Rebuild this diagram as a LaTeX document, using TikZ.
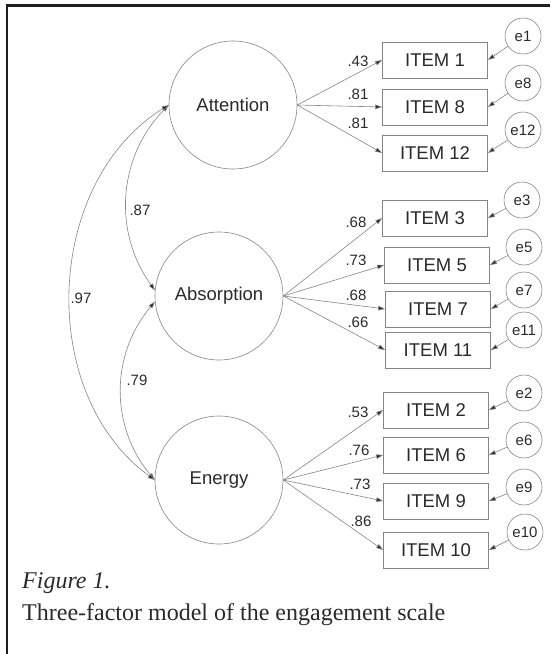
\documentclass[tikz,border=0pt]{standalone}
\usepackage{fontspec}
\setmainfont{Liberation Serif}
\setsansfont{Liberation Sans}
\usetikzlibrary{arrows.meta}
\definecolor{linec}{HTML}{858585}
\definecolor{txt}{HTML}{2A2A2A}
\definecolor{framec}{HTML}{1E1E1E}
\begin{document}
\begin{tikzpicture}[x=1pt,y=-1pt,
 lat/.style={circle,draw=linec,line width=0.6pt,minimum size=128pt,inner sep=0pt,font=\sffamily\fontsize{18.5}{20}\selectfont,text=txt},
 item/.style={rectangle,draw=linec,line width=0.6pt,minimum width=105pt,minimum height=36pt,inner sep=0pt,font=\sffamily\fontsize{18.5}{20}\selectfont,text=txt},
 err/.style={circle,draw=linec,line width=0.6pt,minimum size=36pt,inner sep=0pt,font=\sffamily\fontsize{15}{16}\selectfont,text=txt},
 lab/.style={inner sep=0pt,font=\sffamily\fontsize{15}{16}\selectfont,text=txt},
 load/.style={draw=linec,line width=0.6pt,-{Triangle[length=7pt,width=4.5pt,fill=txt]}},
 covar/.style={draw=linec,line width=0.6pt,{Triangle[length=7pt,width=4.5pt,fill=txt]}-{Triangle[length=7pt,width=4.5pt,fill=txt]}}]
\useasboundingbox (0,0) rectangle (550,654);
% frame
\draw[line width=2.2pt,color=framec] (7,654) -- (7,5.5) -- (550,5.5);
% latent factors
\node[lat] (att) at (233,105) {Attention};
\node[lat] (abs) at (219,296) {Absorption};
\node[lat] (ene) at (219,480) {Energy};
% items
\node[item] (i1)  at (435,60)  {ITEM 1};
\node[item] (i8)  at (435,107) {ITEM 8};
\node[item] (i12) at (435,153) {ITEM 12};
\node[item] (i3)  at (435,218) {ITEM 3};
\node[item] (i5)  at (437,265) {ITEM 5};
\node[item] (i7)  at (438,309) {ITEM 7};
\node[item] (i11) at (438,350) {ITEM 11};
\node[item] (i2)  at (436,410) {ITEM 2};
\node[item] (i6)  at (436,455) {ITEM 6};
\node[item] (i9)  at (436,501) {ITEM 9};
\node[item] (i10) at (436,550) {ITEM 10};
% errors
\node[err] (e1)  at (523,36)  {e1};
\node[err] (e8)  at (523,83)  {e8};
\node[err] (e12) at (523,130) {e12};
\node[err] (e3)  at (522,200) {e3};
\node[err] (e5)  at (524,247) {e5};
\node[err] (e7)  at (524,290) {e7};
\node[err] (e11) at (524,330) {e11};
\node[err] (e2)  at (524,393) {e2};
\node[err] (e6)  at (524,440) {e6};
\node[err] (e9)  at (524,487) {e9};
\node[err] (e10) at (525,532) {e10};
% loadings
\foreach \f/\i in {att/i1,att/i8,att/i12,abs/i3,abs/i5,abs/i7,abs/i11,ene/i2,ene/i6,ene/i9,ene/i10}
  \draw[load] (\f.east) -- (\i.west);
% error paths
\foreach \e/\i in {e1/i1,e8/i8,e12/i12,e3/i3,e5/i5,e7/i7,e11/i11,e2/i2,e6/i6,e9/i9,e10/i10}
  \draw[load] (\e) -- (\i.east);
% covariances
\draw[covar] (att.west) to[bend right=40] (abs.175);
\draw[covar] (abs.185) to[bend right=40] (ene.west);
\draw[covar] (att.west) to[bend right=56] (ene.west);
% loading labels
\node[lab] (l1)  at (358,61)  {.43};
\node[lab] (l8)  at (358,94)  {.81};
\node[lab] (l12) at (358,123) {.81};
\node[lab] (l3)  at (356,222) {.68};
\node[lab] (l5)  at (356,260) {.73};
\node[lab] (l7)  at (356,295) {.68};
\node[lab] (l11) at (358,322) {.66};
\node[lab] (l2)  at (358,412) {.53};
\node[lab] (l6)  at (359,450) {.76};
\node[lab] (l9)  at (360,484) {.73};
\node[lab] (l10) at (361,521) {.86};
% correlation labels
\node[lab] (c1) at (140,210) {.87};
\node[lab] (c2) at (81,298)  {.97};
\node[lab] (c3) at (137,380) {.79};
% caption
\node[anchor=base west,inner sep=0pt,font=\fontsize{24}{26}\selectfont\itshape,text=txt] (cap1) at (22,588) {Figure 1.};
\node[anchor=base west,inner sep=0pt,font=\fontsize{24}{26}\selectfont,text=txt] (cap2) at (22,620) {Three-factor model of the engagement scale};
\end{tikzpicture}
\end{document}
